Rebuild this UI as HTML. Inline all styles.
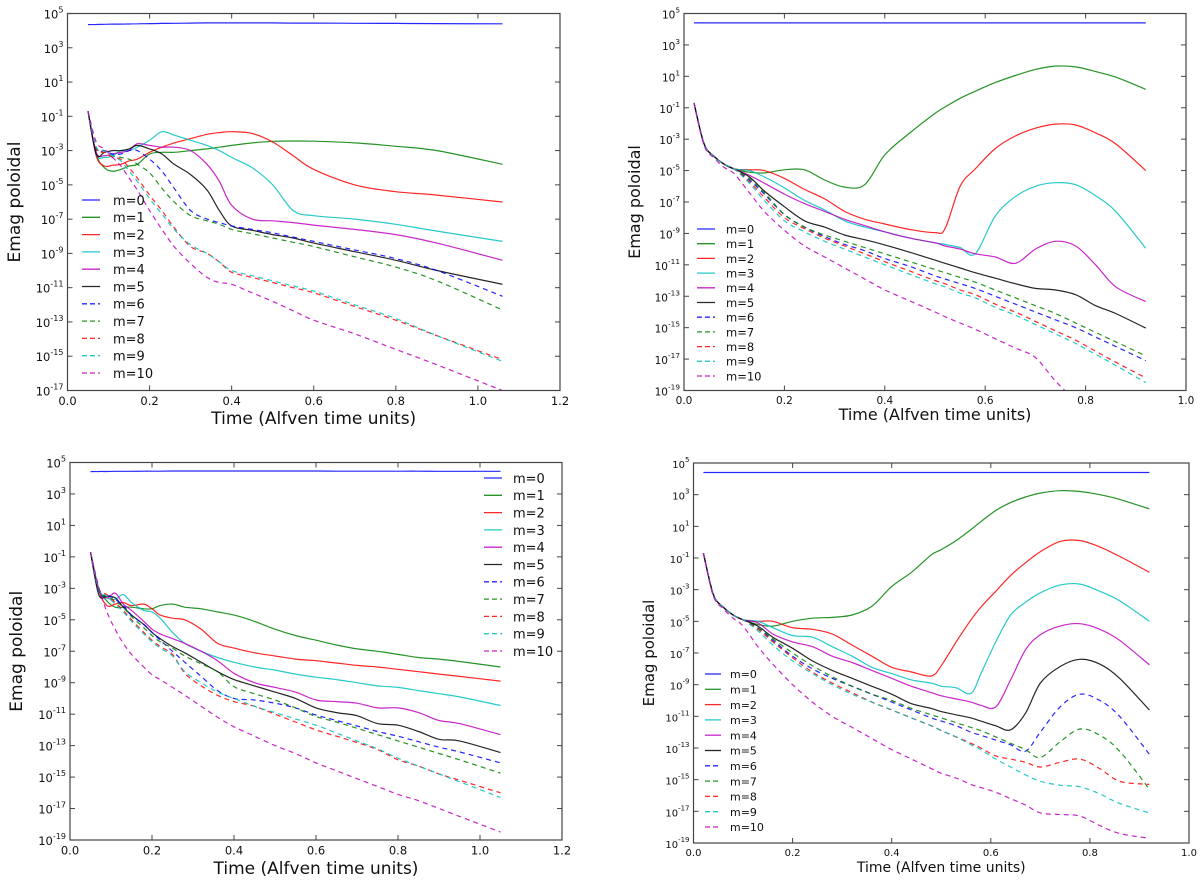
<!DOCTYPE html>
<html><head><meta charset="utf-8"><style>
html,body{margin:0;padding:0;background:#fff;}
svg{display:block;font-family:"DejaVu Sans","Liberation Sans",sans-serif;}
</style></head><body>
<svg id="fig" width="1200" height="882" viewBox="0 0 1200 882" xmlns="http://www.w3.org/2000/svg"></svg>
<script>
const labels=["m=0","m=1","m=2","m=3","m=4","m=5","m=6","m=7","m=8","m=9","m=10"];
const colors=["#0000ff","#008000","#ff0000","#00bfbf","#bf00bf","#000000","#0000ff","#008000","#ff0000","#00bfbf","#bf00bf"];
const xTicks12=[0,0.2,0.4,0.6,0.8,1.0,1.2];
const xTicks10=[0,0.2,0.4,0.6,0.8,1.0];

const tA=[0.05,0.07,0.09,0.11,0.13,0.15,0.17,0.2,0.23,0.26,0.3,0.34,0.37,0.4,0.45,0.5,0.55,0.6,0.7,0.8,0.9,1.06];
const A0=[4.35,4.36,4.37,4.38,4.38,4.39,4.4,4.41,4.42,4.43,4.44,4.45,4.45,4.45,4.45,4.45,4.44,4.44,4.43,4.42,4.41,4.4];
const A1=[-0.7,-3.2,-4.0,-4.2,-4.1,-3.9,-3.8,-3.2,-3.1,-3.1,-3.0,-2.9,-2.8,-2.7,-2.55,-2.46,-2.44,-2.45,-2.55,-2.75,-3.0,-3.8];
const A2=[-0.7,-3.3,-3.9,-3.85,-3.8,-3.6,-3.5,-3.1,-2.8,-2.55,-2.3,-2.05,-1.95,-1.9,-2.0,-2.5,-3.3,-4.1,-5.0,-5.4,-5.6,-6.0];
const A3=[-0.7,-3.2,-3.4,-3.3,-3.0,-3.0,-2.8,-2.4,-1.9,-2.1,-2.4,-2.7,-3.0,-3.4,-4.0,-5.0,-6.5,-6.8,-7.0,-7.3,-7.7,-8.3];
const A4=[-0.7,-3.1,-3.3,-3.2,-3.1,-3.0,-2.6,-2.7,-2.8,-2.8,-3.0,-3.8,-4.8,-6.2,-7.0,-7.1,-7.2,-7.35,-7.6,-7.9,-8.4,-9.4];
const A5=[-0.7,-3.2,-3.1,-3.0,-3.0,-2.9,-2.7,-2.9,-3.2,-3.8,-4.4,-5.3,-6.5,-7.4,-7.65,-7.9,-8.1,-8.4,-8.9,-9.4,-10.0,-10.8];
const A6=[-0.7,-2.9,-3.0,-3.2,-3.2,-3.0,-3.0,-3.5,-4.2,-5.2,-6.5,-7.0,-7.2,-7.4,-7.6,-7.8,-8.05,-8.3,-8.8,-9.3,-10.0,-11.5];
const A7=[-0.7,-2.8,-3.0,-3.3,-3.4,-3.5,-3.8,-4.3,-5.2,-6.0,-6.8,-7.1,-7.3,-7.6,-7.85,-8.1,-8.35,-8.6,-9.2,-9.8,-10.6,-12.3];
const A8=[-0.7,-2.9,-3.1,-3.4,-3.5,-4.0,-4.6,-5.6,-6.5,-7.5,-8.6,-9.0,-9.5,-10.1,-10.4,-10.7,-11.0,-11.3,-12.1,-12.9,-13.8,-15.2];
const A9=[-0.7,-2.8,-3.0,-3.3,-3.6,-4.2,-4.8,-5.8,-6.7,-7.6,-8.5,-9.0,-9.5,-10.0,-10.3,-10.6,-10.9,-11.2,-12.0,-12.8,-13.8,-15.3];
const A10=[-0.7,-2.5,-2.9,-3.4,-3.9,-4.6,-5.3,-6.5,-7.6,-8.6,-9.6,-10.4,-10.7,-10.8,-11.3,-11.8,-12.35,-12.9,-13.7,-14.6,-15.5,-17.0];

const tB=[0.02,0.04,0.06,0.08,0.1,0.13,0.16,0.2,0.24,0.28,0.32,0.36,0.4,0.45,0.5,0.52,0.55,0.58,0.62,0.66,0.7,0.74,0.78,0.82,0.86,0.92];
const B0=[4.4,4.4,4.4,4.4,4.4,4.4,4.4,4.4,4.4,4.4,4.4,4.4,4.4,4.4,4.4,4.4,4.4,4.4,4.4,4.4,4.4,4.4,4.4,4.4,4.4,4.4];
const B1=[-0.7,-3.3,-4.1,-4.6,-4.9,-5.1,-5.15,-4.95,-4.95,-5.6,-6.05,-5.9,-4.0,-2.6,-1.36,-0.95,-0.4,0.05,0.6,1.05,1.44,1.65,1.6,1.3,0.95,0.17];
const B2=[-0.7,-3.3,-4.1,-4.6,-4.9,-4.95,-5.0,-5.5,-6.2,-6.8,-7.6,-8.1,-8.4,-8.75,-8.95,-8.7,-6.0,-4.9,-3.6,-2.8,-2.3,-2.04,-2.1,-2.6,-3.3,-5.0];
const B3=[-0.7,-3.3,-4.1,-4.6,-4.9,-5.0,-5.4,-6.1,-6.9,-7.5,-8.2,-8.6,-8.9,-9.3,-9.6,-9.7,-9.9,-10.3,-7.9,-6.66,-6.0,-5.77,-5.9,-6.6,-7.6,-9.95];
const B4=[-0.7,-3.3,-4.1,-4.6,-4.9,-5.3,-5.8,-6.5,-7.1,-7.6,-8.1,-8.5,-8.9,-9.3,-9.6,-9.8,-10.0,-10.3,-10.5,-10.9,-10.0,-9.5,-9.8,-11.0,-12.4,-13.34];
const B5=[-0.7,-3.3,-4.1,-4.6,-4.9,-5.4,-6.3,-7.3,-8.2,-8.6,-9.1,-9.4,-9.73,-10.2,-10.7,-10.9,-11.2,-11.5,-11.85,-12.2,-12.5,-12.6,-12.9,-13.6,-14.1,-15.03];
const B6=[-0.7,-3.3,-4.1,-4.6,-4.9,-5.6,-6.5,-7.8,-8.6,-9.2,-9.7,-10.1,-10.6,-11.1,-11.7,-11.9,-12.2,-12.5,-13.0,-13.5,-14.0,-14.5,-15.0,-15.6,-16.2,-17.1];
const B7=[-0.7,-3.3,-4.1,-4.6,-4.9,-5.5,-6.4,-7.8,-8.6,-9.1,-9.5,-9.9,-10.3,-10.8,-11.3,-11.5,-11.8,-12.1,-12.6,-13.1,-13.6,-14.1,-14.7,-15.3,-15.9,-16.8];
const B8=[-0.7,-3.3,-4.1,-4.6,-4.9,-5.7,-6.7,-8.0,-8.7,-9.3,-9.8,-10.3,-10.8,-11.4,-12.0,-12.2,-12.6,-12.9,-13.5,-14.0,-14.6,-15.2,-15.8,-16.5,-17.2,-18.2];
const B9=[-0.7,-3.3,-4.1,-4.6,-4.9,-5.8,-6.9,-8.2,-8.9,-9.5,-10.0,-10.5,-11.0,-11.6,-12.2,-12.4,-12.8,-13.1,-13.7,-14.2,-14.8,-15.4,-16.0,-16.7,-17.4,-18.5];
const B10=[-0.7,-3.4,-4.2,-4.8,-5.2,-6.4,-7.6,-8.8,-9.8,-10.5,-11.2,-11.9,-12.6,-13.3,-14.0,-14.3,-14.7,-15.1,-15.7,-16.3,-16.9,-18.4,-19.6,-20.5,-21.5,-23];

const tC=[0.05,0.07,0.09,0.11,0.13,0.15,0.18,0.2,0.22,0.25,0.28,0.32,0.36,0.4,0.45,0.5,0.55,0.6,0.65,0.7,0.75,0.8,0.85,0.9,0.95,1.05];
const C0=[4.42,4.43,4.43,4.44,4.44,4.44,4.45,4.45,4.45,4.46,4.46,4.46,4.46,4.46,4.46,4.46,4.46,4.46,4.45,4.45,4.45,4.45,4.45,4.44,4.44,4.44];
const C1=[-0.7,-3.0,-3.8,-4.2,-4.2,-4.2,-4.3,-4.3,-4.1,-4.0,-4.2,-4.3,-4.5,-4.7,-5.1,-5.6,-6.0,-6.3,-6.6,-6.85,-7.0,-7.2,-7.4,-7.5,-7.65,-8.0];
const C2=[-0.7,-3.1,-4.1,-4.0,-3.9,-4.1,-4.0,-4.3,-4.7,-4.9,-5.0,-5.6,-6.5,-6.8,-7.1,-7.3,-7.5,-7.6,-7.75,-7.9,-8.0,-8.15,-8.3,-8.45,-8.6,-8.9];
const C3=[-0.7,-3.0,-3.6,-3.7,-3.4,-3.9,-4.4,-4.5,-4.9,-5.8,-6.5,-7.0,-7.4,-7.7,-8.0,-8.2,-8.45,-8.65,-8.8,-9.0,-9.2,-9.3,-9.5,-9.7,-9.9,-10.45];
const C4=[-0.7,-3.1,-3.6,-3.3,-4.0,-4.4,-5.1,-5.6,-5.9,-6.2,-6.5,-7.0,-7.6,-8.4,-9.0,-9.3,-9.6,-10.1,-10.2,-10.3,-10.6,-10.6,-10.9,-11.4,-11.6,-12.3];
const C5=[-0.7,-3.4,-3.5,-3.6,-4.2,-4.7,-5.3,-5.8,-6.2,-6.7,-7.1,-7.7,-8.3,-8.8,-9.2,-9.6,-10.0,-10.6,-10.9,-11.1,-11.6,-11.7,-12.1,-12.6,-12.7,-13.44];
const C6=[-0.7,-3.3,-3.4,-3.7,-4.1,-4.7,-5.3,-5.8,-6.3,-7.0,-7.7,-8.6,-9.5,-10.0,-10.1,-10.3,-10.6,-11.05,-11.4,-11.75,-12.1,-12.4,-12.75,-13.1,-13.4,-14.1];
const C7=[-0.7,-3.2,-3.5,-3.8,-4.2,-4.8,-5.5,-6.0,-6.4,-6.8,-7.3,-7.8,-8.3,-9.25,-9.7,-10.1,-10.6,-11.15,-11.5,-11.9,-12.3,-12.7,-13.1,-13.5,-13.9,-14.75];
const C8=[-0.7,-3.0,-3.4,-3.9,-4.4,-5.0,-5.8,-6.3,-6.7,-7.2,-8.4,-9.2,-9.8,-10.2,-10.5,-11.0,-11.5,-12.0,-12.4,-12.8,-13.25,-13.9,-14.3,-14.8,-15.2,-16.0];
const C9=[-0.7,-3.0,-3.5,-4.0,-4.5,-5.1,-5.9,-6.4,-6.8,-7.3,-8.3,-9.0,-9.6,-10.0,-10.5,-10.9,-11.3,-11.7,-12.2,-12.7,-13.2,-13.8,-14.3,-14.8,-15.3,-16.3];
const C10=[-0.7,-2.9,-4.5,-5.6,-6.5,-7.2,-8.0,-8.5,-8.8,-9.3,-9.8,-10.5,-11.2,-11.8,-12.4,-13.0,-13.5,-14.1,-14.6,-15.1,-15.6,-16.1,-16.5,-17.0,-17.5,-18.5];

const tD=[0.02,0.04,0.06,0.08,0.1,0.13,0.16,0.2,0.24,0.28,0.32,0.36,0.4,0.44,0.48,0.5,0.53,0.56,0.58,0.61,0.64,0.67,0.7,0.74,0.78,0.82,0.86,0.92];
const D0=[4.4,4.4,4.4,4.4,4.4,4.4,4.4,4.4,4.4,4.4,4.4,4.4,4.4,4.4,4.4,4.4,4.4,4.4,4.4,4.4,4.4,4.4,4.4,4.4,4.4,4.4,4.4,4.4];
const D1=[-0.7,-3.3,-4.1,-4.6,-4.9,-5.2,-5.3,-5.0,-4.8,-4.75,-4.6,-4.05,-2.8,-1.9,-0.8,-0.47,0.1,0.8,1.3,2.0,2.5,2.85,3.1,3.25,3.2,3.0,2.7,2.1];
const D2=[-0.7,-3.3,-4.1,-4.6,-4.9,-5.0,-5.0,-5.4,-5.5,-5.8,-6.5,-7.2,-7.9,-8.2,-8.45,-7.8,-6.3,-4.9,-4.1,-3.1,-2.1,-1.3,-0.6,0.05,0.1,-0.3,-0.9,-1.9];
const D3=[-0.7,-3.3,-4.1,-4.6,-4.9,-5.0,-5.4,-5.9,-6.0,-6.6,-7.2,-7.9,-8.3,-8.7,-8.9,-9.1,-9.2,-9.55,-8.3,-6.3,-4.6,-3.8,-3.2,-2.7,-2.65,-3.1,-3.7,-5.0];
const D4=[-0.7,-3.3,-4.1,-4.6,-4.9,-5.1,-5.8,-6.3,-6.6,-7.2,-7.6,-8.1,-8.6,-9.1,-9.5,-9.7,-9.9,-10.1,-10.3,-10.4,-8.7,-6.8,-5.85,-5.3,-5.15,-5.5,-6.2,-7.75];
const D5=[-0.7,-3.3,-4.1,-4.6,-4.9,-5.3,-6.0,-6.7,-7.5,-8.1,-8.6,-9.1,-9.6,-10.2,-10.5,-10.7,-10.9,-11.1,-11.3,-11.6,-11.85,-10.8,-8.9,-7.85,-7.4,-7.7,-8.6,-10.6];
const D6=[-0.7,-3.3,-4.1,-4.6,-4.9,-5.4,-6.2,-7.2,-8.0,-8.6,-9.1,-9.6,-10.1,-10.6,-11.1,-11.3,-11.6,-12.0,-12.2,-12.5,-12.8,-13.2,-12.0,-10.4,-9.6,-10.0,-11.0,-13.4];
const D7=[-0.7,-3.3,-4.1,-4.6,-4.9,-5.4,-6.1,-7.0,-7.8,-8.5,-9.1,-9.6,-10.0,-10.5,-10.9,-11.1,-11.4,-11.7,-11.9,-12.3,-12.7,-13.1,-13.6,-12.6,-11.8,-12.2,-13.2,-15.6];
const D8=[-0.7,-3.3,-4.1,-4.6,-4.9,-5.5,-6.3,-7.3,-8.2,-8.9,-9.5,-10.1,-10.6,-11.1,-11.6,-11.9,-12.3,-12.7,-13.0,-13.5,-13.7,-13.9,-14.2,-13.9,-13.7,-14.3,-15.1,-15.3];
const D9=[-0.7,-3.3,-4.1,-4.6,-4.9,-5.6,-6.5,-7.5,-8.3,-9.0,-9.6,-10.1,-10.6,-11.1,-11.6,-11.9,-12.3,-12.8,-13.1,-13.7,-14.2,-14.7,-15.1,-15.35,-15.45,-15.9,-16.5,-17.1];
const D10=[-0.7,-3.4,-4.2,-4.8,-5.3,-6.6,-7.7,-9.0,-10.1,-11.0,-11.7,-12.4,-13.1,-13.7,-14.3,-14.6,-14.9,-15.3,-15.5,-15.8,-16.2,-16.6,-17.1,-17.2,-17.3,-17.9,-18.4,-18.7];

const NS="http://www.w3.org/2000/svg";
const svg=document.getElementById('fig');
function mk(tag,attrs,parent){const e=document.createElementNS(NS,tag);for(const k in attrs)e.setAttribute(k,attrs[k]);(parent||svg).appendChild(e);return e;}

function smoothPath(pts){
  let d='M'+pts[0][0].toFixed(1)+','+pts[0][1].toFixed(1);
  for(let i=0;i<pts.length-1;i++){
    const p0=pts[Math.max(0,i-1)],p1=pts[i],p2=pts[i+1],p3=pts[Math.min(pts.length-1,i+2)];
    const c1x=p1[0]+(p2[0]-p0[0])/6,c1y=p1[1]+(p2[1]-p0[1])/6;
    const c2x=p2[0]-(p3[0]-p1[0])/6,c2y=p2[1]-(p3[1]-p1[1])/6;
    d+='C'+c1x.toFixed(1)+','+c1y.toFixed(1)+' '+c2x.toFixed(1)+','+c2y.toFixed(1)+' '+p2[0].toFixed(1)+','+p2[1].toFixed(1);
  }
  return d;
}

function drawPanel(id,box,xmax,xticks,ymin,ymax,t,series,leg,titleFs,xtitleFs,titleX,xtitleY,tickFs){
  const g=mk('g',{});
  
  
  const xs=v=>box.l+(v/xmax)*(box.r-box.l);
  const ys=v=>box.b-(v-ymin)/(ymax-ymin)*(box.b-box.t);
  const cp=mk('clipPath',{id:'clip'+id},g);
  mk('rect',{x:box.l,y:box.t,width:box.r-box.l,height:box.b-box.t},cp);
  const sg=mk('g',{'clip-path':'url(#clip'+id+')'},g);
  series.forEach((vals,i)=>{
    const n=Math.min(t.length,vals.length);
    const pts=[];
    for(let k=0;k<n;k++)pts.push([xs(t[k]),ys(vals[k])]);
    const p=mk('path',{d:smoothPath(pts),fill:'none',stroke:colors[i],'stroke-width':1.2,'stroke-linejoin':'round','stroke-opacity':0.85},sg);
    if(i>=6)p.setAttribute('stroke-dasharray','5,4');
    
    
  });
  const fr=mk('rect',{x:box.l,y:box.t,width:box.r-box.l,height:box.b-box.t,fill:'none',stroke:'#444','stroke-width':1.2},g);
  
  
  xticks.forEach(v=>{
    const x=xs(v);
    mk('line',{x1:x,y1:box.b,x2:x,y2:box.b-5,stroke:'#444'},g);
    mk('line',{x1:x,y1:box.t,x2:x,y2:box.t+5,stroke:'#444'},g);
    const tx=mk('text',{x:x,y:box.b+tickFs+3,'font-size':tickFs,'text-anchor':'middle',fill:'#111'},g);
    tx.textContent=v.toFixed(1);
    
    
  });
  for(let e=ymax;e>=ymin;e-=2){
    const y=ys(e);
    mk('line',{x1:box.l,y1:y,x2:box.l+5,y2:y,stroke:'#444'},g);
    mk('line',{x1:box.r,y1:y,x2:box.r-5,y2:y,stroke:'#444'},g);
    const tx=mk('text',{x:box.l-4,y:y+5,'font-size':tickFs,'text-anchor':'end',fill:'#111'},g);
    
    
    tx.appendChild(document.createTextNode('10'));
    const ts=mk('tspan',{dy:-6,'font-size':tickFs*0.7},tx);ts.textContent=String(e);
  }
  const yt=mk('text',{x:titleX,y:(box.t+box.b)/2,'font-size':titleFs,'text-anchor':'middle',fill:'#111',transform:'rotate(-90 '+titleX+' '+((box.t+box.b)/2)+')'},g);
  yt.textContent='Emag poloidal';
  
  
  const xt=mk('text',{x:(box.l+box.r)/2,y:xtitleY,'font-size':xtitleFs,'text-anchor':'middle',fill:'#111'},g);
  xt.textContent='Time (Alfven time units)';
  
  
  const lg=mk('g',{},g);
  
  
  labels.forEach((lab,i)=>{
    const y=leg.y+i*leg.dy;
    const ln=mk('line',{x1:leg.x1,y1:y,x2:leg.x2,y2:y,stroke:colors[i],'stroke-width':1.3,'stroke-opacity':0.85},lg);
    if(i>=6)ln.setAttribute('stroke-dasharray','5,3');
    const tx=mk('text',{x:leg.tx,y:y+leg.fs*0.38,'font-size':leg.fs,fill:'#111'},lg);
    tx.textContent=lab;
    
    
  });
}
drawPanel('a',{l:67.5,r:560,t:13.5,b:390.5},1.2,xTicks12,-17,5,tA,[A0,A1,A2,A3,A4,A5,A6,A7,A8,A9,A10],{x1:82,x2:100,tx:113,y:200,dy:17.3,fs:13},17,17,20,424,11.5);
drawPanel('b',{l:684,r:1186,t:13.5,b:390.5},1.0,xTicks10,-19,5,tB,[B0,B1,B2,B3,B4,B5,B6,B7,B8,B9,B10],{x1:697,x2:715,tx:726,y:229,dy:14.7,fs:11.5},16,16,640,420,10.5);
drawPanel('c',{l:70,r:562,t:462.5,b:840},1.2,xTicks12,-19,5,tC,[C0,C1,C2,C3,C4,C5,C6,C7,C8,C9,C10],{x1:484,x2:502,tx:513,y:478,dy:17.3,fs:13},17,17,22,874,11.5);
drawPanel('d',{l:693.5,r:1189,t:463,b:843},1.0,xTicks10,-19,5,tD,[D0,D1,D2,D3,D4,D5,D6,D7,D8,D9,D10],{x1:705,x2:721,tx:730,y:674,dy:15.3,fs:11},15,14,654,872,10);
</script>
</body></html>
